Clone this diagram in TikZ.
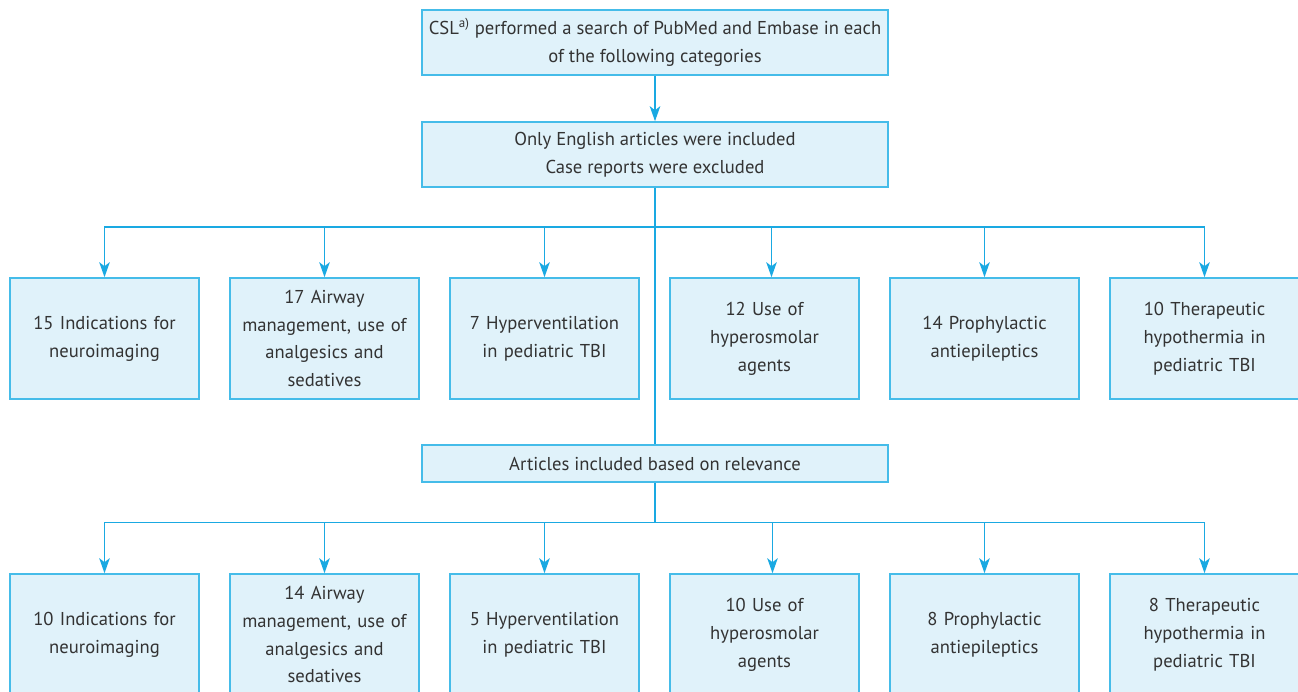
\documentclass[tikz,border=0pt]{standalone}
\usepackage{fontspec}
\setmainfont{PT Sans}
\usetikzlibrary{arrows.meta}
\definecolor{flowline}{HTML}{1AA9E2}
\definecolor{flowedge}{HTML}{45BCE9}
\definecolor{flowfill}{HTML}{E0F2FA}
\definecolor{flowink}{HTML}{333333}

\begin{document}
\begin{tikzpicture}[
  x=0.02cm,
  y=-0.02cm,
  every node/.style={font=\fontsize{10.6pt}{15.9pt}\selectfont, text=flowink},
  wide/.style={draw=flowedge, fill=flowfill, line width=0.9pt,
               minimum width=9.32cm, align=center, inner sep=0pt},
  cat/.style={draw=flowedge, fill=flowfill, line width=0.9pt,
              minimum width=3.78cm, minimum height=2.42cm,
              text width=3.6cm, align=center, inner sep=0pt},
  link/.style={flowline, line width=1.1pt},
  feed/.style={flowline, line width=1.1pt,
               -{Stealth[length=0.3cm, width=0.21cm, inset=0.08cm]}}
]
  \useasboundingbox (0,0) rectangle (1298,691);

  % ---- the three wide boxes --------------------------------------------
  \node[wide, minimum height=1.3cm] (search) at (655,42.5)
    {CSL\textsuperscript{a)} performed a search of PubMed and Embase in each\\
     of the following categories};
  \node[wide, minimum height=1.3cm] (filter) at (655,154.5)
    {Only English articles were included\\Case reports were excluded};
  \node[wide, minimum height=0.74cm] (relev) at (655,463.5)
    {Articles included based on relevance};

  % ---- first row: categories searched ----------------------------------
  \foreach \i/\txt in {
      1/{15 Indications for\\neuroimaging},
      2/{17 Airway\\management, use of\\analgesics and\\sedatives},
      3/{7 Hyperventilation\\in pediatric TBI},
      4/{12 Use of\\hyperosmolar\\agents},
      5/{14 Prophylactic\\antiepileptics},
      6/{10 Therapeutic\\hypothermia in\\pediatric TBI}}
    \node[cat] (top\i) at ({104.5+220*(\i-1)},338.5) {\txt};

  % ---- second row: articles kept ---------------------------------------
  \foreach \i/\txt in {
      1/{10 Indications for\\neuroimaging},
      2/{14 Airway\\management, use of\\analgesics and\\sedatives},
      3/{5 Hyperventilation\\in pediatric TBI},
      4/{10 Use of\\hyperosmolar\\agents},
      5/{8 Prophylactic\\antiepileptics},
      6/{8 Therapeutic\\hypothermia in\\pediatric TBI}}
    \node[cat] (low\i) at ({104.5+220*(\i-1)},634.5) {\txt};

  % ---- connectors ------------------------------------------------------
  \draw[feed] (search) -- (filter);
  \draw[link] (filter) -- (relev);
  \coordinate (busA) at (655,227);
  \coordinate (busB) at (655,522.5);
  \draw[link] (relev) -- (busB);
  \foreach \i in {1,2,3,5,6} {
    \draw[feed] (busA) -| (top\i.north);
    \draw[feed] (busB) -| (low\i.north);
  }
  \draw[feed] (busA) -| ([xshift=0.14cm]top4.north);
  \draw[feed] (busB) -| ([xshift=0.16cm]low4.north);
\end{tikzpicture}
\end{document}
